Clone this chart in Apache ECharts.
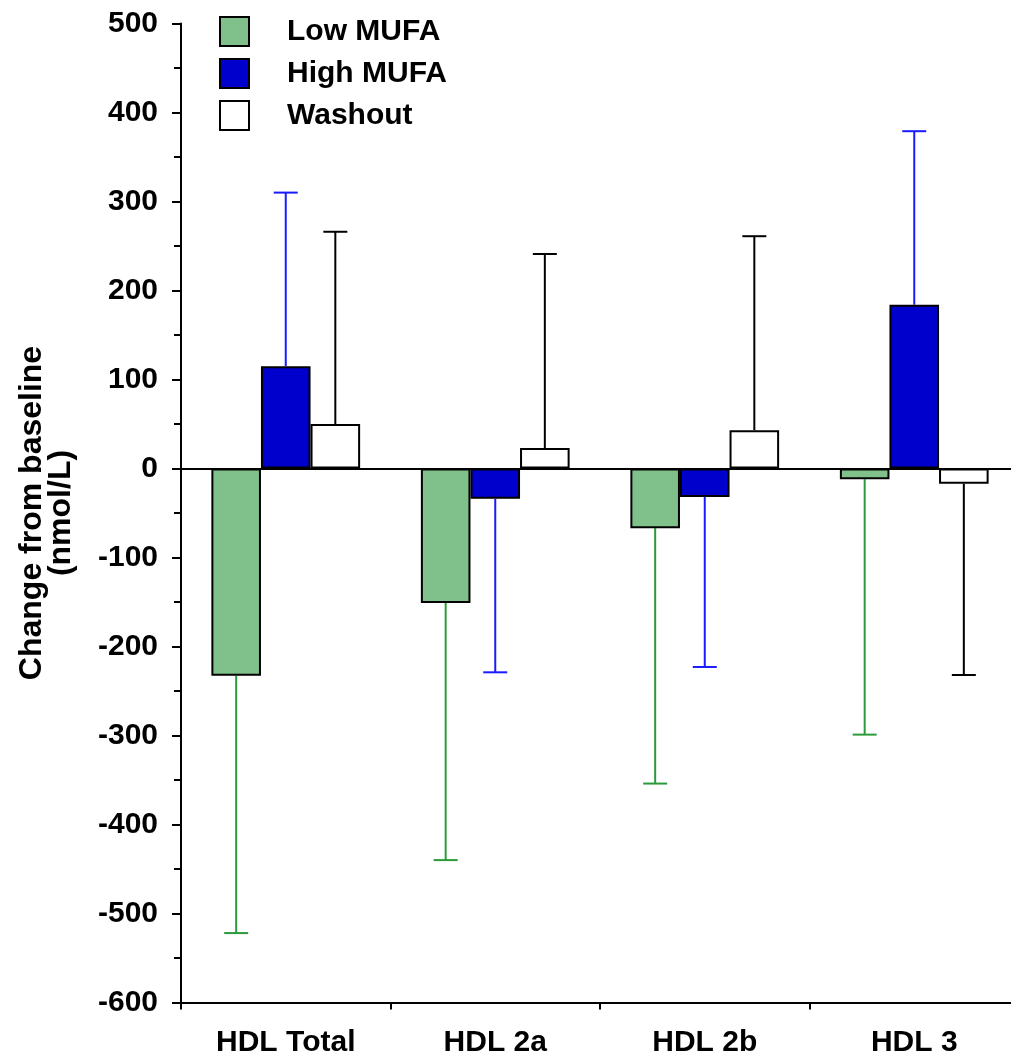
<!DOCTYPE html>
<html>
<head>
<meta charset="utf-8">
<script src="https://cdn.jsdelivr.net/npm/echarts@6/dist/echarts.min.js"></script>
<style>html,body{margin:0;padding:0;background:#fff;overflow:hidden;}#c{width:1011px;height:1057px;}</style>
</head>
<body>
<div id="c"></div>
<script>
var categories = ['HDL Total', 'HDL 2a', 'HDL 2b', 'HDL 3'];
var seriesNames = ['Low MUFA', 'High MUFA', 'Washout'];
var lowMufa = [-233, -151, -67, -12];
var highMufa = [115, -34, -32, 184];
var washout = [50, 23, 43, -17];
// error bar end values (one-sided, away from zero)
var lowMufaErrEnd = [-522, -440, -354, -299];
var highMufaErrEnd = [310, -229, -223, 379];
var washoutErrEnd = [266, 241, 261, -232];
var yTicks = [-600, -500, -400, -300, -200, -100, 0, 100, 200, 300, 400, 500];

var fills = ['#80c08a', '#0000cc', '#ffffff'];
var errColors = ['#2a9a3a', '#1a1aff', '#000000'];
var values = [lowMufa, highMufa, washout];
var errEnds = [lowMufaErrEnd, highMufaErrEnd, washoutErrEnd];
var CAT_GAP = 0.29;

var font = 'Liberation Sans, Arial, Helvetica, sans-serif';

var chart = echarts.init(document.getElementById('c'), null, {renderer: 'canvas'});

var series = [];
seriesNames.forEach(function (name, i) {
  var s = {
    name: name,
    type: 'bar',
    data: values[i],
    barGap: '0%',
    barCategoryGap: (CAT_GAP * 100) + '%',
    itemStyle: {color: fills[i], borderColor: '#000', borderWidth: 2},
    emphasis: {disabled: true},
    z: 3
  };
  if (i === 0) {
    s.markLine = {
      silent: true,
      symbol: ['none', 'none'],
      label: {show: false},
      lineStyle: {color: '#000', width: 2, type: 'solid'},
      data: [{yAxis: 0}],
      z: 4
    };
  }
  series.push(s);
});

seriesNames.forEach(function (name, i) {
  var data = categories.map(function (c, k) { return [k, values[i][k], errEnds[i][k]]; });
  series.push({
    type: 'custom',
    name: name + ' err',
    data: data,
    z: 2,
    silent: true,
    renderItem: function (params, api) {
      var k = api.value(0);
      var catW = api.size([1, 0])[0];
      var bw = catW * (1 - CAT_GAP) / 3;
      var offset = (i - 1) * bw;
      var p0 = api.coord([k, api.value(1)]);
      var p1 = api.coord([k, api.value(2)]);
      var x = p0[0] + offset;
      var capHalf = 12;
      var st = {stroke: errColors[i], lineWidth: 2};
      return {
        type: 'group',
        children: [
          {type: 'line', shape: {x1: x, y1: p0[1], x2: x, y2: p1[1]}, style: st},
          {type: 'line', shape: {x1: x - capHalf, y1: p1[1], x2: x + capHalf, y2: p1[1]}, style: st}
        ]
      };
    }
  });
});

chart.setOption({
  animation: false,
  backgroundColor: '#fff',
  grid: {left: 181, width: 838, top: 23.5, bottom: 54.5, containLabel: false, outerBoundsMode: 'none'},
  legend: {
    data: seriesNames,
    orient: 'vertical',
    left: 214,
    top: 11,
    itemWidth: 29,
    itemHeight: 29,
    itemGap: 11,
    icon: 'rect',
    selectedMode: false,
    textStyle: {fontFamily: font, fontWeight: 'bold', fontSize: 30, lineHeight: 29, color: '#000', padding: [0, 0, 0, 33]}
  },
  xAxis: {
    type: 'category',
    data: categories,
    axisLine: {onZero: false, lineStyle: {color: '#000', width: 2}},
    axisTick: {show: true, length: 7, lineStyle: {color: '#000', width: 2}},
    axisLabel: {fontFamily: font, fontWeight: 'bold', fontSize: 30, color: '#000', margin: 25},
    splitLine: {show: false}
  },
  yAxis: {
    type: 'value',
    min: yTicks[0],
    max: yTicks[yTicks.length - 1],
    interval: 100,
    name: 'Change from baseline\n(nmol/L)',
    nameLocation: 'middle',
    nameGap: 105,
    nameTextStyle: {fontFamily: font, fontWeight: 'bold', fontSize: 32, color: '#000', lineHeight: 29},
    axisLine: {show: true, lineStyle: {color: '#000', width: 2}},
    axisTick: {show: true, length: 9, lineStyle: {color: '#000', width: 2}},
    minorTick: {show: true, splitNumber: 2, length: 7, lineStyle: {color: '#000', width: 2}},
    axisLabel: {fontFamily: font, fontWeight: 'bold', fontSize: 30, color: '#000', margin: 23},
    splitLine: {show: false}
  },
  series: series
});
</script>
</body>
</html>
